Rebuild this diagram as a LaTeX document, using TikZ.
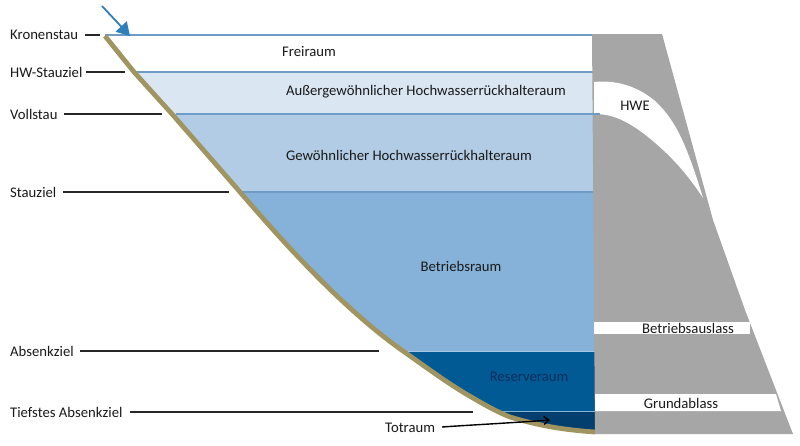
\documentclass[tikz,border=0pt]{standalone}
\usepackage{fontspec}
\setmainfont{Carlito}
\usetikzlibrary{arrows.meta}
\definecolor{wa}{HTML}{DAE6F2}
\definecolor{wb}{HTML}{B1CCE4}
\definecolor{wc}{HTML}{86B1D9}
\definecolor{wd}{HTML}{025A94}
\definecolor{we}{HTML}{023F6E}
\definecolor{lv}{HTML}{6E9CC6}
\definecolor{bank}{HTML}{A09560}
\definecolor{dam}{HTML}{A6A6A6}
\definecolor{arrowblue}{HTML}{2F7FBA}
\definecolor{navytext}{HTML}{0B2F5C}
\tikzset{
 lab/.style={inner sep=0pt,anchor=west,font=\fontsize{14.7}{15}\selectfont,text=black!90},
 inner/.style={inner sep=0pt,font=\fontsize{14.7}{15}\selectfont,text=black!90},
 leader/.style={line width=1.1pt,black!85},
 level/.style={line width=1.1pt,lv}
}
\def\bankpath{(105,36) -- (134,72) -- (172,114) -- (240,192) .. controls (290,250) and (345,310) .. (403,351) .. controls (430,370) and (450,385) .. (473,398) .. controls (490,408) and (500,413) .. (510,417) .. controls (540,426) and (565,430) .. (595,432)}
\begin{document}
\begin{tikzpicture}[x=1pt,y=-1pt]
\useasboundingbox (0,0) rectangle (800,445);
% water, clipped by the bank
\begin{scope}
\clip \bankpath -- (596,36) -- cycle;
\fill[wa] (100,72) rectangle (596,114);
\fill[wb] (100,114) rectangle (596,192);
\fill[wc] (100,192) rectangle (596,351);
\fill[wd] (100,351) rectangle (596,411);
\fill[we] (100,411) rectangle (596,434);
\draw[level] (100,35.5) -- (596,35.5);
\draw[level] (100,72) -- (596,72);
\draw[level] (100,192) -- (596,192);
\draw[line width=.6pt,wc!70!white] (100,351) -- (596,351);
\draw[line width=.6pt,wc] (100,411) -- (596,411);
\end{scope}
% levels above the top of the clip
\coordinate (k0) at (105,35); \coordinate (k1) at (592,35);
\coordinate (v0) at (176,114); \coordinate (v1) at (600,114);
\draw[level] (k0) -- (k1);
% dam
\fill[dam] (592,34) -- (662,34) -- (713,220) -- (745,310) -- (793,434) -- (595,434) -- cycle;
\fill[white] (594,82) .. controls (612,80) and (635,84) .. (655,101) .. controls (672,117) and (684,135) .. (703,198) .. controls (685,170) and (665,150) .. (643,133) .. controls (625,120) and (612,114) .. (594,114) -- cycle;
\fill[white] (594,322) rectangle (750,334);
\fill[white] (595,394) -- (776,394) -- (781,411) -- (595,411) -- cycle;
\draw[level] (v0) -- (v1);
% bank
\draw[bank,line width=4.8pt,line join=round] \bankpath;
% labels
\node[lab] (kr) at (10,35) {Kronenstau};
\node[lab] (hw) at (10,72) {HW-Stauziel};
\node[lab] (vo) at (10,114) {Vollstau};
\node[lab] (st) at (10,192) {Stauziel};
\node[lab] (ab) at (10,351) {Absenkziel};
\node[lab] (ti) at (10,412) {Tiefstes Absenkziel};
\node[lab] (to) at (385,428) {Totraum};
\coordinate (krE) at (100,35);
\coordinate (hwE) at (125,72);
\coordinate (voE) at (162,114);
\coordinate (stE) at (229,192);
\coordinate (abE) at (379,351);
\coordinate (tiE) at (473,412);
\coordinate (toE) at (550,420);
\draw[leader] (85,35) -- (krE);
\draw[leader] (86,72) -- (hwE);
\draw[leader] (64,114) -- (voE);
\draw[leader] (63,192) -- (stE);
\draw[leader] (80,351) -- (abE);
\draw[leader] (130,412) -- (tiE);
\draw[line width=1.4pt,black,-{Straight Barb[length=5pt,width=8pt]}] (442,427) .. controls (470,425) and (510,423) .. (toE);
% blue arrow
\coordinate (ar0) at (102,6);
\coordinate (ar1) at (130,36);
\draw[arrowblue,line width=1.8pt,-{Triangle[length=13pt,width=15pt]}] (ar0) -- (ar1);
% inner labels
\node[inner] (n1) at (309,51) {Freiraum};
\node[inner] (n2) at (426,92) {Außergewöhnlicher Hochwasserrückhalteraum};
\node[inner] (n3) at (409,155) {Gewöhnlicher Hochwasserrückhalteraum};
\node[inner] (n4) at (461,266) {Betriebsraum};
\node[inner,text=navytext] (n5) at (529,377) {Reserveraum};
\node[inner] (n6) at (635,106) {HWE};
\node[inner] (n7) at (688,328) {Betriebsauslass};
\node[inner] (n8) at (681,403) {Grundablass};
\end{tikzpicture}
\end{document}
